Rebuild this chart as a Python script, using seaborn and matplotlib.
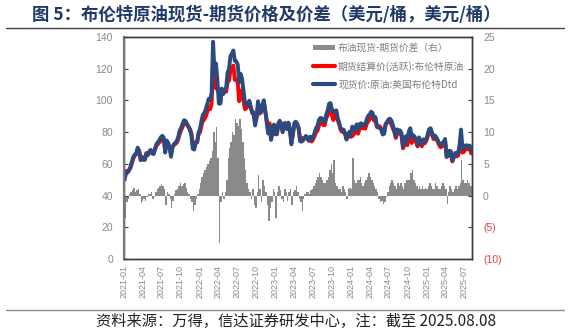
import numpy as np
import pandas as pd
import matplotlib
matplotlib.use("Agg")
import matplotlib.pyplot as plt
import matplotlib.dates as mdates
from matplotlib.ticker import MultipleLocator, FuncFormatter
from matplotlib.lines import Line2D
from matplotlib.patches import Patch
import seaborn as sns

# Weekly (Monday) Brent readings, one list per year, one row per month.
# fut_*: active futures settlement (USD/bbl); spr_*: Dated spot minus futures.
fut_2021 = [53.5, 55.5, 55.0, 55.8,
            57.5, 60.5, 63.3, 65.2,
            66.0, 69.2, 68.0, 63.5, 64.5,
            63.0, 63.3, 66.8, 65.5,
            67.5, 68.3, 67.0, 66.5, 69.3,
            71.5, 72.6, 73.5, 75.0,
            76.2, 75.5, 68.6, 74.2,
            73.0, 70.5, 66.5, 70.8, 72.0,
            72.5, 73.5, 75.5, 79.0,
            81.3, 83.5, 85.5, 85.9,
            84.7, 83.3, 82.0, 79.5, 72.0,
            70.5, 73.8, 73.5, 78.8]
spr_2021 = [-3.5, -1.0, -0.5, 0.3,
            0.5, 0.8, 1.2, 0.6,
            0.8, 1.0, 0.3, -1.2, -0.8,
            -0.5, -0.8, -0.3, 0.2,
            0.3, 0.5, -0.5, -0.3, 0.5,
            1.0, 1.2, 1.5, 1.8,
            1.5, 1.0, -1.5, 0.5,
            0.2, -0.5, -2.0, -0.8, 0.3,
            0.8, 1.0, 1.5, 2.0,
            1.5, 1.8, 2.0, 1.2,
            0.5, 0.3, -0.5, -1.0, -2.5,
            -1.5, -0.5, 0.3, 1.0]

fut_2022 = [80.0, 84.0, 87.5, 88.0, 90.0,
            92.7, 95.5, 94.5, 97.9,
            127.0, 108.0, 112.5, 106.5,
            105.5, 99.0, 107.0, 104.5,
            106.0, 105.5, 111.5, 112.5, 119.5,
            119.5, 122.0, 113.0, 113.1,
            111.6, 99.5, 106.3, 105.2,
            100.0, 94.5, 95.1, 97.0, 99.3,
            95.7, 92.0, 92.4, 86.2,
            88.9, 96.2, 91.6, 93.3, 94.8,
            98.6, 93.1, 87.5, 83.2,
            85.6, 76.1, 79.8, 84.3]
spr_2022 = [2.0, 3.0, 3.5, 4.0, 4.5,
            5.0, 5.5, 6.0, 7.0,
            10.0, 8.5, 10.8, 6.0,
            -7.5, -1.0, 0.5, -0.5,
            0.5, 2.5, 6.0, 7.5, 8.5,
            10.0, 9.5, 12.0, 11.5,
            11.0, 12.0, 10.5, 8.5,
            6.0, 4.0, 2.0, 1.0, 0.5,
            -0.5, 1.0, -1.5, -2.0,
            0.5, 3.3, 1.0, -1.0, 2.5,
            1.5, 0.5, -1.5, -4.0,
            -2.0, -1.0, 1.0, 0.5]

fut_2023 = [82.1, 78.6, 84.0, 86.4, 84.9,
            80.9, 84.6, 85.2, 82.6,
            85.5, 80.8, 73.8, 78.1,
            84.9, 85.1, 84.8, 82.7,
            75.3, 76.5, 75.2, 76.0, 77.1,
            76.1, 74.5, 76.4, 74.1,
            75.4, 77.5, 80.0, 80.9, 84.0,
            86.0, 86.2, 84.5, 84.4,
            88.6, 90.6, 93.9, 93.3,
            90.7, 87.6, 90.9, 92.2, 87.5,
            84.9, 81.4, 80.2, 80.6,
            78.9, 75.8, 77.0, 79.0]
spr_2023 = [-3.5, 0.5, 1.5, 0.8, -0.5,
            -1.0, 1.0, 0.5, -0.8,
            0.5, 1.0, -1.5, 0.5,
            0.8, 1.5, 0.5, -0.5,
            -1.0, -2.5, -0.5, 0.3, 0.5,
            0.5, 0.3, 0.8, 1.0,
            1.5, 2.0, 2.5, 3.0, 3.5,
            3.0, 2.5, 2.0, 2.0,
            2.5, 3.0, 4.0, 5.0,
            3.5, 5.6, 2.0, 1.5, 1.0,
            1.0, 0.5, 1.5, 1.0,
            0.5, -0.5, 1.0, 1.2]

fut_2024 = [77.0, 77.5, 78.5, 80.0, 82.4,
            79.0, 82.0, 83.6, 82.5,
            83.0, 82.2, 85.3, 86.8,
            88.0, 90.4, 90.1, 87.3, 88.4,
            83.2, 83.4, 83.7, 82.2,
            79.8, 80.0, 85.2, 86.0,
            86.6, 86.5, 84.8, 82.4, 80.0,
            76.3, 79.7, 79.7, 79.0,
            77.5, 69.8, 72.0, 74.9, 71.8,
            78.0, 79.0, 73.1, 75.6,
            75.0, 73.9, 71.0, 75.2,
            72.9, 71.1, 74.5, 72.9, 74.4]
spr_2024 = [1.0, 6.0, 2.5, 2.0, 2.5,
            2.5, 3.0, 2.0, 1.5,
            2.0, 2.5, 3.0, 3.5,
            3.0, 2.5, 2.0, 1.5, 1.0,
            0.5, -0.5, -1.0, -0.8,
            -1.3, -1.0, -0.3, 0.5,
            1.5, 2.0, 2.5, 2.0, 1.5,
            1.0, 2.0, 1.5, 2.0,
            1.5, 1.0, 2.0, 2.5, 2.5,
            2.5, 3.5, 4.0, 2.5,
            2.0, 1.5, 1.0, 1.5,
            1.0, 1.5, 1.0, 1.2, 1.0]

fut_2025 = [77.0, 79.8, 81.0, 78.5,
            75.7, 75.9, 75.2, 74.0,
            71.6, 70.4, 71.1, 72.2, 74.7,
            65.6, 64.8, 66.8, 66.9,
            61.5, 63.9, 65.4, 64.7,
            65.3, 69.8, 76.0, 67.1, 67.6,
            69.6, 69.2, 69.3, 70.0,
            66.6]
spr_2025 = [1.5, 2.0, 1.5, 1.0,
            1.0, 2.0, 1.5, 1.0,
            1.0, 1.5, 2.0, 1.5, 1.0,
            -1.3, 0.5, 1.5, 1.0,
            0.5, 1.0, 1.5, 1.0,
            1.5, 2.0, 5.6, 2.5, 2.0,
            2.0, 2.5, 2.0, 1.5,
            1.5]

first_mondays = ["2021-01-04", "2022-01-03", "2023-01-02", "2024-01-01", "2025-01-06"]
fut_years = [fut_2021, fut_2022, fut_2023, fut_2024, fut_2025]
spr_years = [spr_2021, spr_2022, spr_2023, spr_2024, spr_2025]

title_text = "图 5：布伦特原油现货-期货价格及价差（美元/桶，美元/桶）"
source_text = "资料来源：万得，信达证券研发中心，注：截至 2025.08.08"
label_spread = "布油现货-期货价差（右）"
label_fut = "期货结算价(活跃):布伦特原油"
label_spot = "现货价:原油:英国布伦特Dtd"

frames = []
for start, fut, spr in zip(first_mondays, fut_years, spr_years):
    n = min(len(fut), len(spr))
    frames.append(pd.DataFrame({
        "date": pd.date_range(start, periods=n, freq="7D"),
        "futures": fut[:n],
        "spread": spr[:n],
    }))
df = pd.concat(frames, ignore_index=True)
df["spot"] = df["futures"] + df["spread"]

sns.set_theme(style="white")
plt.rcParams["font.family"] = ["Noto Sans CJK SC", "DejaVu Sans"]

W, H = 570, 334
fig = plt.figure(figsize=(W / 100, H / 100), dpi=100)
fig.patch.set_facecolor("white")

x0, x1, y0, y1 = 124, 472, 37, 259
ax = fig.add_axes([x0 / W, 1 - y1 / H, (x1 - x0) / W, (y1 - y0) / H])
ax2 = ax.twinx()

# spread bars on the right axis
ax2.bar(df["date"], df["spread"], width=7, align="edge",
        color="#8a8a8a", linewidth=0)

# price lines on the left axis
sns.lineplot(data=df, x="date", y="futures", ax=ax, color="#ff0000",
             linewidth=2.8, legend=False)
sns.lineplot(data=df, x="date", y="spot", ax=ax, color="#2c4a7e",
             linewidth=2.8, legend=False)

ax.set_zorder(ax2.get_zorder() + 1)
ax.patch.set_visible(False)

ax.set_xlim(pd.Timestamp("2021-01-01"), pd.Timestamp("2025-08-08"))
ax.set_ylim(0, 140)
ax2.set_ylim(-10, 25)
ax.yaxis.set_major_locator(MultipleLocator(20))
ax2.yaxis.set_major_locator(MultipleLocator(5))
ax.set_xlabel("")
ax.set_ylabel("")
ax2.set_ylabel("")

ticks = pd.date_range("2021-01-01", "2025-07-01", freq="QS")
ax.set_xticks(ticks)
ax.xaxis.set_major_formatter(mdates.DateFormatter("%Y-%m"))

def paren_fmt(v, pos):
    v = int(round(v))
    return f"({abs(v)})" if v < 0 else f"{v}"

ax2.yaxis.set_major_formatter(FuncFormatter(paren_fmt))

tick_font = "Liberation Sans"
gray = "#8a8a8a"
ax.tick_params(axis="x", direction="in", length=3, width=0.8, color="#404040",
               labelrotation=90, labelsize=6.5, labelcolor=gray, pad=4)
ax.tick_params(axis="y", direction="in", length=3, width=0.8, color="#404040",
               labelsize=7.5, labelcolor=gray, pad=8)
ax2.tick_params(axis="y", direction="in", length=3, width=0.8, color="#404040",
                labelsize=7.5, labelcolor=gray, pad=8)
for lab in ax.get_xticklabels() + ax.get_yticklabels() + ax2.get_yticklabels():
    lab.set_fontfamily(tick_font)
fig.canvas.draw()
for lab, val in zip(ax2.get_yticklabels(), ax2.get_yticks()):
    if val < 0:
        lab.set_color("#e8433f")

for a in (ax, ax2):
    for side, sp in a.spines.items():
        sp.set_visible(True)
        sp.set_color("#3a3a3a")
        sp.set_linewidth(1.0)
ax.spines["left"].set_color("#7a7a7a")
ax.spines["left"].set_linewidth(1.6)
ax2.spines["right"].set_color("#2c3e5e")

# legend
handles = [
    Patch(facecolor="#8a8a8a", edgecolor="none", label=label_spread),
    Line2D([], [], color="#ff0000", linewidth=3, label=label_fut),
    Line2D([], [], color="#2c4a7e", linewidth=3, label=label_spot),
]
leg = ax.legend(handles=handles, loc="upper left",
                bbox_to_anchor=((306 - x0) / (x1 - x0), 1 - (36 - y0) / (y1 - y0)),
                frameon=False, fontsize=7, handlelength=2.3, handleheight=0.45,
                labelspacing=0.8, handletextpad=0.3, borderpad=0.2,
                labelcolor="#7f7f7f")

# title and rule
fig.text(32 / W, 1 - 15 / H, title_text, fontsize=12.5, fontweight="bold",
         color="#1f3a68", ha="left", va="center")
fig.add_artist(Line2D([6 / W, 564 / W], [1 - 28 / H, 1 - 28 / H],
                      color="#404040", linewidth=1.0))

# source note and rule
fig.add_artist(Line2D([6 / W, 564 / W], [1 - 310 / H, 1 - 310 / H],
                      color="#8c8c8c", linewidth=1.0))
fig.text(296 / W, 1 - 321 / H, source_text, fontsize=11, color="#222222",
         ha="center", va="center")

fig.savefig("out.png", dpi=100)
